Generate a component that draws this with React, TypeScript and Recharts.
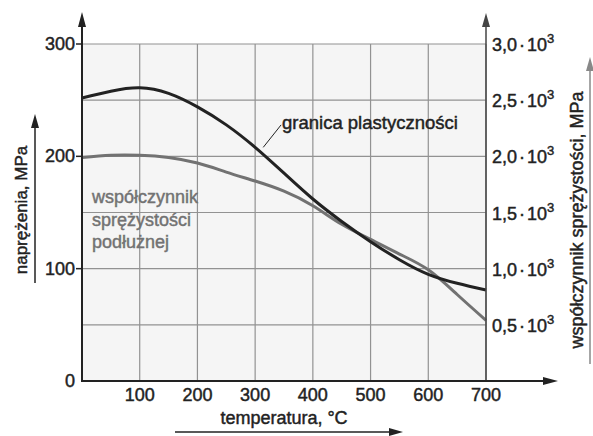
import React from "react";
import {
  LineChart,
  Line,
  XAxis,
  YAxis,
  CartesianGrid,
  ReferenceLine,
} from "recharts";

// temperatura, °C
const temperatures = [0, 50, 100, 150, 200, 250, 300, 350, 400, 450, 500, 550, 600, 650, 700];
// granica plastyczności, MPa (left axis)
const yieldStrength = [252, 258, 261, 256, 244, 228, 208, 185, 162, 142, 124, 108, 95, 87, 81];
// współczynnik sprężystości podłużnej, MPa (right axis)
const elasticModulus = [1990, 2010, 2010, 1990, 1940, 1860, 1780, 1690, 1560, 1395, 1260, 1130, 990, 770, 540];

const xTicks = [0, 100, 200, 300, 400, 500, 600, 700];
const leftTicks = [0, 50, 100, 150, 200, 250, 300];
const rightTicks = [500, 1000, 1500, 2000, 2500, 3000];
const rightTickLabels = ["0,5", "1,0", "1,5", "2,0", "2,5", "3,0"];

const data = temperatures.map((t, i) => ({
  t,
  yield: yieldStrength[i],
  modulus: elasticModulus[i],
}));

const W = 593;
const H = 436;
const LEFT = 82;
const RIGHT_W = 107;
const TOP = 44;
const BOTTOM_H = 55;
const PLOT_RIGHT = W - RIGHT_W;
const PLOT_BOTTOM = H - BOTTOM_H;

const FONT = "'Liberation Sans', Arial, sans-serif";
const INK = "#222";
const GREY = "#727272";

// the scan looks a little heavier than plain regular weight
const heavy = (c: string) => ({ stroke: c, strokeWidth: 0.45 });

function XTick(props: any) {
  const { x, payload } = props;
  if (payload.value === 0) return null;
  return (
    <text x={x} y={PLOT_BOTTOM + 20} textAnchor="middle" fontSize={18} fontFamily={FONT} fill={INK} {...heavy(INK)}>
      {payload.value}
    </text>
  );
}

function LeftTick(props: any) {
  const { y, payload } = props;
  if (payload.value % 100 !== 0) return null;
  return (
    <g>
      {payload.value !== 0 && (
        <line x1={LEFT - 6} x2={LEFT} y1={y} y2={y} stroke={INK} strokeWidth={1.5} />
      )}
      <text x={LEFT - 7} y={y + 6} textAnchor="end" fontSize={18} fontFamily={FONT} fill={INK} {...heavy(INK)}>
        {payload.value}
      </text>
    </g>
  );
}

function RightTick(props: any) {
  const { y, payload } = props;
  const idx = rightTicks.indexOf(payload.value);
  if (idx < 0) return null;
  return (
    <text x={PLOT_RIGHT + 6} y={y + 7} fontSize={18} fontFamily={FONT} fill={INK} {...heavy(INK)}>
      <tspan>{rightTickLabels[idx]}</tspan>
      <tspan dx={2}>·</tspan>
      <tspan dx={2}>10</tspan>
      <tspan dy={-8} fontSize={13}>3</tspan>
    </text>
  );
}

function Overlay() {
  return (
    <svg
      width={W}
      height={H}
      style={{ position: "absolute", left: 0, top: 0, pointerEvents: "none" }}
    >
      {/* axis lines with arrows */}
      <line x1={LEFT} y1={PLOT_BOTTOM + 1} x2={LEFT} y2={24} stroke={INK} strokeWidth={2} />
      <polygon points={`${LEFT},12 ${LEFT - 4},27 ${LEFT + 4},27`} fill={INK} />
      <line x1={PLOT_RIGHT} y1={PLOT_BOTTOM} x2={PLOT_RIGHT} y2={24} stroke="#444" strokeWidth={1.5} />
      <polygon points={`${PLOT_RIGHT},13 ${PLOT_RIGHT - 4},27 ${PLOT_RIGHT + 4},27`} fill="#444" />
      <line x1={LEFT} y1={PLOT_BOTTOM} x2={545} y2={PLOT_BOTTOM} stroke={INK} strokeWidth={2} />
      <polygon points={`558,${PLOT_BOTTOM} 543,${PLOT_BOTTOM - 4} 543,${PLOT_BOTTOM + 4}`} fill={INK} />

      {/* axis titles */}
      <text
        transform="translate(27,210) rotate(-90)"
        textAnchor="middle"
        fontSize={17}
        fontFamily={FONT}
        fill={INK}
        {...heavy(INK)}
      >
        naprężenia, MPa
      </text>
      <line x1={35} y1={283} x2={35} y2={126} stroke={INK} strokeWidth={1.5} />
      <polygon points="35,114 31,128 39,128" fill={INK} />

      <text
        transform="translate(583,220) rotate(-90)"
        textAnchor="middle"
        fontSize={18}
        fontFamily={FONT}
        fill={INK}
        {...heavy(INK)}
      >
        współczynnik sprężystości, MPa
      </text>
      <line x1={590} y1={364} x2={590} y2={70} stroke="#888" strokeWidth={1.5} />
      <polygon points="590,57 586,71 594,71" fill="#888" />

      <text x={284} y={424} textAnchor="middle" fontSize={18} fontFamily={FONT} fill={INK} {...heavy(INK)}>
        temperatura, °C
      </text>
      <line x1={175} y1={432} x2={390} y2={432} stroke={INK} strokeWidth={1.5} />
      <polygon points="403,432 389,428 389,436" fill={INK} />

      {/* curve annotations */}
      <text x={282} y={129} fontSize={18.5} fontFamily={FONT} fill={INK} {...heavy(INK)}>
        granica plastyczności
      </text>
      <text fontSize={18} fontFamily={FONT} fill={GREY} {...heavy(GREY)}>
        <tspan x={92} y={203}>współczynnik</tspan>
        <tspan x={92} y={226}>sprężystości</tspan>
        <tspan x={92} y={248}>podłużnej</tspan>
      </text>
    </svg>
  );
}

export default function App() {
  return (
    <div style={{ position: "absolute", left: 0, top: 0, width: W, height: H, background: "#fff" }}>
      <LineChart
        width={W}
        height={H}
        data={data}
        margin={{ top: TOP, right: 0, bottom: 0, left: 0 }}
      >
        <CartesianGrid
          yAxisId="left"
          stroke="#929292"
          strokeWidth={1.2}
          fill="#f5f5f5"
          fillOpacity={1}
        />
        <XAxis
          dataKey="t"
          type="number"
          domain={[0, 700]}
          ticks={xTicks}
          height={BOTTOM_H}
          axisLine={false}
          tickLine={false}
          tick={<XTick />}
          interval={0}
        />
        <YAxis
          yAxisId="left"
          domain={[0, 300]}
          ticks={leftTicks}
          width={LEFT}
          axisLine={false}
          tickLine={false}
          tick={<LeftTick />}
          interval={0}
        />
        <YAxis
          yAxisId="right"
          orientation="right"
          domain={[0, 3000]}
          ticks={rightTicks}
          width={RIGHT_W}
          axisLine={false}
          tickLine={false}
          tick={<RightTick />}
          interval={0}
        />
        <ReferenceLine
          yAxisId="left"
          segment={[{ x: 314, y: 208 }, { x: 345, y: 228 }]}
          stroke={INK}
          strokeWidth={1}
        />
        <ReferenceLine
          yAxisId="left"
          segment={[{ x: 225, y: 189 }, { x: 218, y: 166 }, { x: 211, y: 163 }]}
          stroke={GREY}
          strokeWidth={1}
        />
        <Line
          yAxisId="right"
          dataKey="modulus"
          type="natural"
          stroke={GREY}
          strokeWidth={3}
          dot={false}
          isAnimationActive={false}
        />
        <Line
          yAxisId="left"
          dataKey="yield"
          type="natural"
          stroke={INK}
          strokeWidth={3}
          dot={false}
          isAnimationActive={false}
        />
      </LineChart>
      <Overlay />
    </div>
  );
}
